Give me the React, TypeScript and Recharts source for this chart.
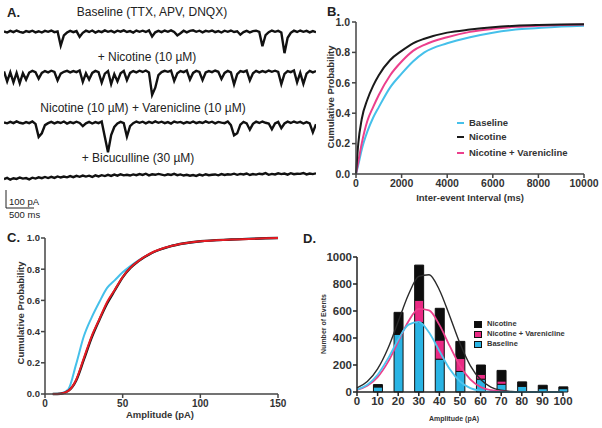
import React from 'react';
import { LineChart, Line, XAxis, YAxis, ComposedChart, Bar } from 'recharts';

const FONT = '"Liberation Sans", Arial, Helvetica, sans-serif';

// ---------- Panel A: example traces (pA, one sample per ~3 px) ----------
const traceBaseline = [
  0, -6, 3, -4, 5, -2, -7, 2, -3, 4,
  -5, 1, -6, 3, -2, 5, -4, 0, -78, -22,
  -6, 3, -4, 2, -30, -8, 4, -3, 5, -6,
  2, -4, 6, -2, 3, -5, 4, -1, 6, -3,
  2, -6, 5, -2, 4, -3, 6, -28, -5, 3,
  -4, 5, -2, 6, -3, -22, -10, 4, -5, 3,
  6, -2, 4, -5, 3, -1, 5, -4, 2, -6,
  4, -2, 5, -3, 1, -18, -4, 3, -5, 2,
  4, -3, -82, -20, -4, 5, -2, 3, -6, -120,
  -35, -8, 4, -3, 5, -2, 3, -5, 2, -4,
];
const traceNicotine = [
  0, -55, -5, -60, -8, -65, -10, -45, -6, 3,
  -4, -40, -8, 2, -5, 4, -3, -50, -12, -2,
  3, -5, 2, -4, 5, -58, -10, -45, -8, 3,
  -4, -62, -12, 2, -70, -15, -55, -10, 3, -48,
  -8, 2, -5, 4, -3, 5, -6, -130, -90, -20,
  -4, 3, -2, 5, -52, -10, 2, -4, 5, -45,
  -8, 3, -3, -48, -6, 2, -4, 5, -2, -42,
  -8, 3, -5, -72, -15, 2, -3, 4, -50, -10,
  3, -5, 2, -4, 5, -2, 4, -3, -70, -14,
  2, -4, 5, -60, -8, -68, -12, 3, -5, 2,
];
const traceNicVar = [
  0, -5, 3, -4, 6, -2, -6, 2, -4, 5,
  -8, -80, -60, -15, -4, 3, -5, 2, -3, 5,
  -6, 2, -4, 4, -3, -20, -5, 3, -6, 2,
  -4, 5, -80, -165, -70, -25, -6, 3, -4, -78,
  -20, -4, 5, -2, 4, -5, 3, -3, 6, -2,
  4, -4, 2, -6, 5, -1, 3, -5, 2, -3,
  5, -4, 2, -3, 6, -2, 4, -5, 3, -1,
  -4, 5, -15, -72, -60, -12, 3, -5, -40, -8,
  4, -3, 5, -2, -6, -38, -5, 3, -32, -6,
  4, -3, 5, -2, 3, -6, 2, -5, -55, -10,
];
const traceBicuculline = [
  -15, -8, -18, -10, -14, -6, -12, -9, -16, -7,
  -12, -5, -10, -3, -9, -2, -8, 0, -6, -1,
  -5, 2, -4, 3, -2, 5, -1, 4, -3, 6,
  0, 7, 2, 9, 3, 10, 4, 12, 6, 9,
  5, 11, 7, 13, 8, 15, 6, 12, 9, 14,
  10, 6, 12, 8, 14, 7, 11, 5, 9, 4,
  8, 3, 10, 5, 12, 7, 9, 11, 6, 13,
  8, 12, 10, 15, 9, 14, 11, 16, 8, 13,
  10, 15, 12, 18, 9, 14, 11, 17, 13, 16,
  10, 18, 12, 15, 14, 19, 11, 16, 13, 17,
];
const traceTitles = [
  'Baseline (TTX, APV, DNQX)',
  '+ Nicotine (10 \u00b5M)',
  'Nicotine (10 \u00b5M) + Varenicline (10 \u00b5M)',
  '+ Bicuculline (30 \u00b5M)',
];

// ---------- Panel B: inter-event interval CDF ----------
const intervalMs = [0, 100, 250, 500, 750, 1000, 1500, 2000, 2500, 3000, 4000, 5000, 6000, 7000, 8000, 9000, 10000];
const ieiBaseline = [0, 0.06, 0.16, 0.28, 0.37, 0.44, 0.57, 0.66, 0.74, 0.8, 0.86, 0.9, 0.93, 0.95, 0.96, 0.97, 0.975];
const ieiNicotine = [0, 0.2, 0.36, 0.49, 0.58, 0.65, 0.75, 0.81, 0.86, 0.89, 0.93, 0.95, 0.965, 0.975, 0.98, 0.983, 0.985];
const ieiNicVar = [0, 0.08, 0.2, 0.35, 0.44, 0.52, 0.65, 0.74, 0.81, 0.85, 0.9, 0.935, 0.955, 0.968, 0.975, 0.98, 0.983];
const intervalTicks = [0, 2000, 4000, 6000, 8000, 10000];
const probTicks = [0, 0.2, 0.4, 0.6, 0.8, 1.0];

// ---------- Panel C: amplitude CDF ----------
const amplitudePA = [5, 10, 15, 20, 25, 30, 35, 40, 45, 50, 55, 60, 70, 80, 90, 100, 120, 150];
const ampBaseline = [0, 0.003, 0.03, 0.19, 0.37, 0.49, 0.59, 0.68, 0.73, 0.78, 0.82, 0.855, 0.91, 0.945, 0.965, 0.978, 0.99, 1.0];
const ampNicotine = [0, 0.002, 0.02, 0.085, 0.22, 0.36, 0.475, 0.58, 0.665, 0.748, 0.808, 0.85, 0.91, 0.945, 0.966, 0.979, 0.99, 1.0];
const ampNicVar = [0, 0.002, 0.02, 0.09, 0.23, 0.37, 0.48, 0.59, 0.67, 0.75, 0.81, 0.852, 0.912, 0.946, 0.966, 0.979, 0.99, 1.0];
const ampTicks = [0, 50, 100, 150];

// ---------- Panel D: amplitude histogram ----------
const ampBins = [10, 20, 30, 40, 50, 60, 70, 80, 90, 100];
const countNicotine = [55, 590, 940, 620, 375, 200, 160, 75, 50, 38];
const countNicVar = [40, 427, 680, 385, 248, 130, 82, 42, 25, 25];
const countBaseline = [38, 427, 515, 243, 152, 95, 57, 42, 25, 25];
const fitX = [0, 5, 10, 15, 20, 25, 30, 35, 40, 45, 50, 55, 60, 65, 70, 75, 80, 85, 90, 95, 100];
const fitNicotine = [30, 77, 171, 322, 521, 722, 856, 869, 756, 563, 359, 196, 92, 37, 13, 4, 1, 0, 0, 0, 0];
const fitNicVar = [16, 46, 110, 221, 373, 524, 616, 605, 497, 341, 195, 94, 37, 13, 4, 1, 0, 0, 0, 0, 0];
const fitBaseline = [18, 54, 128, 247, 389, 499, 520, 441, 304, 170, 78, 29, 9, 2, 0, 0, 0, 0, 0, 0, 0];
const countTicks = [0, 200, 400, 600, 800, 1000];
const binTicks = [0, 10, 20, 30, 40, 50, 60, 70, 80, 90, 100];

// colours
const C_BLUE = '#45c0ea';
const C_PINK = '#ec3f8c';
const C_BLACK = '#1a1a1a';
const C_RED = '#e51b23';

// ---------- tables ----------
const ieiRows = intervalMs.map((x, i) => ({ x, base: ieiBaseline[i], nic: ieiNicotine[i], nv: ieiNicVar[i] }));
const ampRows = amplitudePA.map((x, i) => ({ x, base: ampBaseline[i], nic: ampNicotine[i], nv: ampNicVar[i] }));
const histRows = fitX.map((x, i) => {
  const row: any = { x, fNic: fitNicotine[i], fNv: fitNicVar[i], fBase: fitBaseline[i] };
  const k = ampBins.indexOf(x);
  if (k >= 0) {
    const b = countBaseline[k];
    const v = Math.max(b, countNicVar[k]);
    const n = countNicotine[k];
    row.sBase = b;
    row.sNv = v - b;
    row.sNic = n - v;
  }
  return row;
});

const traces = [traceBaseline, traceNicotine, traceNicVar, traceBicuculline];
const traceTops = [25.6, 65.6, 116.6, 170.6];
const titlePos = [
  { x: 152, y: 12 },
  { x: 147, y: 57 },
  { x: 143, y: 108 },
  { x: 138, y: 158 },
];

type TProps = {
  x: number; y: number; children: React.ReactNode; size?: number; bold?: boolean;
  rotate?: boolean; anchor?: 'middle' | 'start'; color?: string;
};
const Txt = ({ x, y, children, size = 10, bold = false, rotate = false, anchor = 'middle', color = '#222' }: TProps) => (
  <div
    style={{
      position: 'absolute', left: x, top: y, whiteSpace: 'nowrap', lineHeight: 1,
      fontSize: size, fontWeight: bold ? 'bold' : 'normal', color, fontFamily: FONT,
      transform: `translate(${anchor === 'middle' ? '-50%' : '0'},-50%)${rotate ? ' rotate(-90deg)' : ''}`,
    }}
  >
    {children}
  </div>
);

const axisStroke = { stroke: '#444', strokeWidth: 1.5 };
const tickStyle = (size: number) => ({ fill: '#333', fontSize: size, fontWeight: 'bold' as const, fontFamily: FONT });

export default function App() {
  return (
    <div style={{ position: 'absolute', left: 0, top: 0, width: 602, height: 428, background: '#fff', fontFamily: FONT, overflow: 'hidden' }}>
      {/* Panel A */}
      <Txt x={7} y={12} size={13} bold anchor="start">A.</Txt>
      {traceTitles.map((t, k) => (
        <Txt key={t} x={titlePos[k].x} y={titlePos[k].y} size={12}>{t}</Txt>
      ))}
      {traces.map((tr, k) => (
        <div key={k} style={{ position: 'absolute', left: 4, top: traceTops[k] }}>
          <LineChart width={312} height={38} data={tr.map((v, i) => ({ i, v }))} margin={{ top: 0, right: 0, bottom: 0, left: 0 }}>
            <XAxis dataKey="i" type="number" domain={[0, tr.length - 1]} hide />
            <YAxis type="number" domain={[-180, 30]} hide />
            <Line type="linear" dataKey="v" stroke="#111" strokeWidth={2.4} strokeLinejoin="miter" dot={false} isAnimationActive={false} />
          </LineChart>
        </div>
      ))}
      <svg width={40} height={30} style={{ position: 'absolute', left: 0, top: 186 }}>
        <line x1={6} y1={4} x2={6} y2={22} stroke="#222" strokeWidth={1} />
        <line x1={6} y1={22} x2={34} y2={22} stroke="#222" strokeWidth={1} />
      </svg>
      <Txt x={9} y={202} size={9.5} anchor="start">100 pA</Txt>
      <Txt x={9} y={215} size={9.5} anchor="start">500 ms</Txt>

      {/* Panel B */}
      <Txt x={327} y={11} size={13} bold anchor="start">B.</Txt>
      <div style={{ position: 'absolute', left: 300, top: 0 }}>
        <LineChart width={302} height={215} data={ieiRows} margin={{ top: 22, right: 18, bottom: 11, left: 0 }}>
          <XAxis dataKey="x" type="number" domain={[0, 10000]} ticks={intervalTicks} height={30}
            axisLine={axisStroke} tickLine={axisStroke} tickSize={4} tickMargin={2} tick={tickStyle(10.5)} />
          <YAxis type="number" domain={[0, 1]} ticks={probTicks} width={56} tickFormatter={(v: number) => v.toFixed(1)}
            axisLine={axisStroke} tickLine={axisStroke} tickSize={4} tickMargin={2} tick={tickStyle(10.5)} />
          <Line type="monotone" dataKey="base" stroke={C_BLUE} strokeWidth={2} dot={false} isAnimationActive={false} />
          <Line type="monotone" dataKey="nv" stroke={C_PINK} strokeWidth={2} dot={false} isAnimationActive={false} />
          <Line type="monotone" dataKey="nic" stroke={C_BLACK} strokeWidth={2} dot={false} isAnimationActive={false} />
        </LineChart>
      </div>
      <Txt x={470} y={198} size={9.5} bold color="#333">Inter-event Interval (ms)</Txt>
      <Txt x={331} y={97} size={9.5} bold rotate color="#333">Cumulative Probability</Txt>
      {[{ c: C_BLUE, t: 'Baseline', y: 123 }, { c: C_BLACK, t: 'Nicotine', y: 137 }, { c: C_PINK, t: 'Nicotine + Varenicline', y: 153 }].map((it) => (
        <React.Fragment key={it.t}>
          <div style={{ position: 'absolute', left: 457, top: it.y - 1, width: 7, height: 2, background: it.c }} />
          <Txt x={469} y={it.y} size={9.5} bold anchor="start" color="#333">{it.t}</Txt>
        </React.Fragment>
      ))}

      {/* Panel C */}
      <Txt x={7} y={237} size={13} bold anchor="start">C.</Txt>
      <div style={{ position: 'absolute', left: 0, top: 215 }}>
        <LineChart width={300} height={213} data={ampRows} margin={{ top: 23, right: 22, bottom: 9, left: 0 }}>
          <XAxis dataKey="x" type="number" domain={[0, 150]} ticks={ampTicks} height={25}
            axisLine={axisStroke} tickLine={axisStroke} tickSize={4} tickMargin={2} tick={tickStyle(10)} />
          <YAxis type="number" domain={[0, 1]} ticks={probTicks} width={45} tickFormatter={(v: number) => v.toFixed(1)}
            axisLine={axisStroke} tickLine={axisStroke} tickSize={4} tickMargin={1} tick={tickStyle(9.5)} />
          <Line type="monotone" dataKey="base" stroke={C_BLUE} strokeWidth={2} dot={false} isAnimationActive={false} />
          <Line type="monotone" dataKey="nic" stroke={C_BLACK} strokeWidth={2.4} dot={false} isAnimationActive={false} />
          <Line type="monotone" dataKey="nv" stroke={C_RED} strokeWidth={2} dot={false} isAnimationActive={false} />
        </LineChart>
      </div>
      <Txt x={160} y={415} size={9.5} bold color="#333">Amplitude (pA)</Txt>
      <Txt x={21} y={313} size={9.5} bold rotate color="#333">Cumulative Probability</Txt>

      {/* Panel D */}
      <Txt x={303} y={238} size={13} bold anchor="start">D.</Txt>
      <div style={{ position: 'absolute', left: 300, top: 215 }}>
        <ComposedChart width={302} height={213} data={histRows} margin={{ top: 42, right: 39, bottom: 6, left: 0 }}>
          <XAxis dataKey="x" type="number" domain={[0, 100]} ticks={binTicks} height={30}
            axisLine={{ stroke: '#222', strokeWidth: 1.5 }} tickLine={{ stroke: '#222', strokeWidth: 1.5 }} tickSize={4} tickMargin={1} tick={tickStyle(11.5)} />
          <YAxis type="number" domain={[0, 1000]} ticks={countTicks} width={57}
            axisLine={{ stroke: '#222', strokeWidth: 1.5 }} tickLine={{ stroke: '#222', strokeWidth: 1.5 }} tickSize={4} tickMargin={1} tick={tickStyle(11.5)} />
          <Bar dataKey="sBase" stackId="h" fill="#2ab4e4" stroke="#111" strokeWidth={1} barSize={9} isAnimationActive={false} />
          <Bar dataKey="sNv" stackId="h" fill="#ea2a84" stroke="#111" strokeWidth={1} barSize={9} isAnimationActive={false} />
          <Bar dataKey="sNic" stackId="h" fill="#0d0d0d" stroke="#111" strokeWidth={1} barSize={9} isAnimationActive={false} />
          <Line type="monotone" dataKey="fNic" stroke="#2a2a2a" strokeWidth={1.4} dot={false} isAnimationActive={false} />
          <Line type="monotone" dataKey="fNv" stroke={C_PINK} strokeWidth={1.8} dot={false} isAnimationActive={false} />
          <Line type="monotone" dataKey="fBase" stroke="#4cc4ee" strokeWidth={1.8} dot={false} isAnimationActive={false} />
        </ComposedChart>
      </div>
      <Txt x={454} y={418} size={7} bold color="#333">Amplitude (pA)</Txt>
      <Txt x={323} y={324} size={7} bold rotate color="#333">Number of Events</Txt>
      {[{ c: '#0d0d0d', t: 'Nicotine', y: 324 }, { c: '#ea2a84', t: 'Nicotine + Varenicline', y: 334 }, { c: '#2ab4e4', t: 'Baseline', y: 344 }].map((it) => (
        <React.Fragment key={it.t}>
          <div style={{ position: 'absolute', left: 474, top: it.y - 3.5, width: 6, height: 5, background: it.c, border: '1px solid #111' }} />
          <Txt x={487} y={it.y} size={7.5} bold anchor="start" color="#333">{it.t}</Txt>
        </React.Fragment>
      ))}
    </div>
  );
}
